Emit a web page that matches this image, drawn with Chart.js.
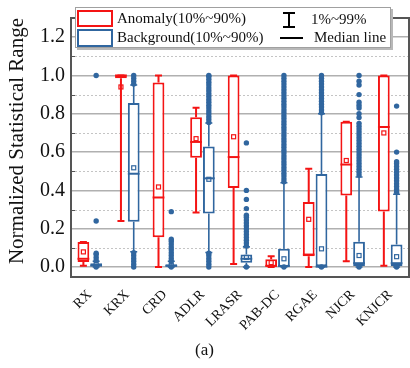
<!DOCTYPE html>
<html>
<head>
<meta charset="utf-8">
<script src="https://cdn.jsdelivr.net/npm/chart.js@4.4.0/dist/chart.umd.min.js"></script>
<style>
  html, body { margin: 0; padding: 0; background: #fff; }
</style>
</head>
<body>
<canvas id="chart" width="410" height="368"></canvas>
<script>
// categories
var labels = ['RX', 'KRX', 'CRD', 'ADLR', 'LRASR', 'PAB-DC', 'RGAE', 'NJCR', 'KNJCR'];

// Anomaly (red): 1%, 10%, median, 90%, 99%, mean
var anomalyLow    = [0.006, 0.24,  0.0,   0.284, 0.016, 0.0,   0.0,   0.03,  0.006];
var anomalyQ1     = [0.026, 0.985, 0.155, 0.57,  0.412, 0.002, 0.056, 0.373, 0.29];
var anomalyMedian = [0.043, 1.0,   0.363, 0.653, 0.574, 0.006, 0.065, 0.535, 0.731];
var anomalyQ3     = [0.13,  1.0,   0.963, 0.782, 1.0,   0.04,  0.34,  0.759, 1.0];
var anomalyHigh   = [0.13,  1.0,   1.0,   0.832, 1.0,   0.056, 0.513, 0.759, 1.0];
var anomalyMean   = [0.079, 0.94,  0.418, 0.67,  0.68,  0.023, 0.249, 0.556, 0.70];

// Background (blue): 1%, 10%, median, 90%, 99%, mean
var backgroundLow    = [0.0,   0.08,  0.0,   0.076, 0.0,   0.0,   0.0,   0.0,   0.0];
var backgroundQ1     = [0.003, 0.236, 0.003, 0.279, 0.022, 0.002, 0.0,   0.005, 0.005];
var backgroundMedian = [0.008, 0.487, 0.006, 0.463, 0.043, 0.005, 0.002, 0.02,  0.02];
var backgroundQ3     = [0.02,  0.856, 0.015, 0.629, 0.065, 0.096, 0.485, 0.132, 0.117];
var backgroundHigh   = [0.03,  0.95,  0.03,  0.752, 0.105, 0.44,  0.80,  0.47,  0.38];
var backgroundMean   = [0.014, 0.518, 0.01,  0.458, 0.05,  0.043, 0.095, 0.06,  0.054];

// Background outliers, one list per category
var backgroundOutliers = [
  [0.0, 0.035, 0.05, 0.065, 0.072, 0.24, 1.0],
  [0.0, 0.015, 0.03, 0.045, 0.06, 0.075, 0.955, 0.97, 0.985, 1.0],
  [0.0, 0.03, 0.045, 0.06, 0.075, 0.09, 0.105, 0.12, 0.135, 0.145, 0.289],
  [0.0, 0.015, 0.03, 0.045, 0.06, 0.072, 0.755, 0.77, 0.785, 0.80, 0.815, 0.83, 0.845, 0.86,
   0.875, 0.89, 0.905, 0.92, 0.935, 0.95, 0.965, 0.98, 0.995, 1.0],
  [0.0, 0.11, 0.125, 0.14, 0.155, 0.17, 0.185, 0.2, 0.215, 0.23, 0.245, 0.26, 0.27,
   0.305, 0.353, 0.40, 0.648],
  [0.0, 0.445, 0.46, 0.475, 0.49, 0.505, 0.52, 0.535, 0.55, 0.565, 0.58, 0.595, 0.61, 0.625,
   0.64, 0.655, 0.67, 0.685, 0.70, 0.715, 0.73, 0.745, 0.76, 0.775, 0.79, 0.805, 0.82, 0.835,
   0.85, 0.865, 0.88, 0.895, 0.91, 0.925, 0.94, 0.955, 0.97, 0.985, 1.0],
  [0.0, 0.805, 0.82, 0.835, 0.85, 0.865, 0.88, 0.895, 0.91, 0.925, 0.94, 0.955, 0.97, 0.985, 1.0],
  [0.0, 0.48, 0.495, 0.51, 0.525, 0.54, 0.555, 0.57, 0.585, 0.60, 0.615, 0.63, 0.645, 0.66,
   0.675, 0.69, 0.705, 0.72, 0.735, 0.75, 0.78, 0.80, 0.83, 0.845, 0.86, 0.90, 0.95, 0.97, 1.0],
  [0.0, 0.39, 0.405, 0.42, 0.435, 0.45, 0.465, 0.48, 0.495, 0.51, 0.525, 0.54, 0.55, 0.60, 0.84]
];

var legendLabels = ['Anomaly(10%~90%)', 'Background(10%~90%)', '1%~99%', 'Median line'];
var yTitle = 'Normalized Statistical Range';
var caption = '(a)';

var RED = '#f41414';
var BLUE = '#30669f';
var SERIF = '"Liberation Serif", "DejaVu Serif", serif';

function boxes(q1, q3) {
    return q1.map(function (v, i) { return [v, q3[i]]; });
}

var stats = [
    { low: anomalyLow, median: anomalyMedian, high: anomalyHigh, mean: anomalyMean, color: RED, width: 2, outliers: null },
    { low: backgroundLow, median: backgroundMedian, high: backgroundHigh, mean: backgroundMean, color: BLUE, width: 1.6, outliers: backgroundOutliers }
];
var q1s = [anomalyQ1, backgroundQ1];
var q3s = [anomalyQ3, backgroundQ3];

function isMinor(v) {
    return Math.abs(Math.round(v * 10)) % 2 !== 0;
}

var boxPlugin = {
    id: 'boxparts',
    beforeDatasetsDraw: function (chart) {
        var ctx = chart.ctx, y = chart.scales.y, area = chart.chartArea;
        ctx.save();
        // minor dotted grid + inner ticks
        y.ticks.forEach(function (t) {
            if (!isMinor(t.value)) return;
            var py = Math.round(y.getPixelForValue(t.value)) + 0.5;
            ctx.strokeStyle = '#c4c4c4';
            ctx.lineWidth = 1;
            ctx.setLineDash([2, 2]);
            ctx.beginPath(); ctx.moveTo(area.left, py); ctx.lineTo(area.right, py); ctx.stroke();
            ctx.setLineDash([]);
            ctx.strokeStyle = '#555';
            ctx.beginPath(); ctx.moveTo(area.left, py); ctx.lineTo(area.left + 4, py); ctx.stroke();
        });
        // whiskers
        stats.forEach(function (s, d) {
            var meta = chart.getDatasetMeta(d);
            ctx.strokeStyle = s.color;
            ctx.lineWidth = s.width;
            meta.data.forEach(function (el, i) {
                var x = el.x;
                var yl = y.getPixelForValue(s.low[i]);
                var yh = y.getPixelForValue(s.high[i]);
                var y1 = y.getPixelForValue(q1s[d][i]);
                var y3 = y.getPixelForValue(q3s[d][i]);
                ctx.beginPath();
                ctx.moveTo(x, yl); ctx.lineTo(x, y1);
                ctx.moveTo(x, y3); ctx.lineTo(x, yh);
                ctx.moveTo(x - 3.5, yl); ctx.lineTo(x + 3.5, yl);
                ctx.moveTo(x - 3.5, yh); ctx.lineTo(x + 3.5, yh);
                ctx.stroke();
            });
        });
        ctx.restore();
    },
    afterDatasetsDraw: function (chart) {
        var ctx = chart.ctx, y = chart.scales.y;
        ctx.save();
        stats.forEach(function (s, d) {
            var meta = chart.getDatasetMeta(d);
            meta.data.forEach(function (el, i) {
                var x = el.x, w = el.width;
                ctx.strokeStyle = s.color;
                ctx.lineWidth = 2;
                var ym = y.getPixelForValue(s.median[i]);
                ctx.beginPath(); ctx.moveTo(x - w / 2, ym); ctx.lineTo(x + w / 2, ym); ctx.stroke();
                var ya = y.getPixelForValue(s.mean[i]);
                ctx.lineWidth = 1.2;
                ctx.strokeRect(x - 2, ya - 2, 4, 4);
                if (s.outliers) {
                    ctx.fillStyle = s.color;
                    s.outliers[i].forEach(function (v) {
                        ctx.beginPath();
                        ctx.arc(x, y.getPixelForValue(v), 2.7, 0, Math.PI * 2);
                        ctx.fill();
                    });
                }
            });
        });
        ctx.restore();
    },
    afterDraw: function (chart) {
        var ctx = chart.ctx, area = chart.chartArea;
        ctx.save();
        // top and right frame
        ctx.strokeStyle = '#555';
        ctx.lineWidth = 2;
        ctx.beginPath();
        ctx.moveTo(area.left, area.top); ctx.lineTo(area.right, area.top); ctx.lineTo(area.right, area.bottom);
        ctx.stroke();
        // legend
        var lx = 75, ly = 7, lw = 316, lh = 41;
        ctx.fillStyle = '#b8b8b8';
        ctx.fillRect(lx + 2, ly + 2, lw, lh);
        ctx.fillStyle = '#fff';
        ctx.fillRect(lx, ly, lw, lh);
        ctx.strokeStyle = '#a0a0a0';
        ctx.lineWidth = 1;
        ctx.strokeRect(lx + 0.5, ly + 0.5, lw - 1, lh - 1);

        ctx.lineWidth = 2;
        ctx.strokeStyle = RED;
        ctx.strokeRect(78, 11, 34, 15);
        ctx.strokeStyle = BLUE;
        ctx.strokeRect(78, 30, 34, 16);

        ctx.strokeStyle = '#000';
        ctx.beginPath();
        ctx.moveTo(289, 13); ctx.lineTo(289, 27);
        ctx.moveTo(283, 13); ctx.lineTo(295, 13);
        ctx.moveTo(283, 27); ctx.lineTo(295, 27);
        ctx.moveTo(280, 38); ctx.lineTo(303, 38);
        ctx.stroke();

        ctx.fillStyle = '#111';
        ctx.font = '15px ' + SERIF;
        ctx.textBaseline = 'middle';
        ctx.fillText(legendLabels[0], 117, 19);
        ctx.fillText(legendLabels[1], 117, 38);
        ctx.fillText(legendLabels[2], 311, 20);
        ctx.fillText(legendLabels[3], 314, 38);
        ctx.restore();
    }
};

var ctx = document.getElementById('chart').getContext('2d');
var chart = new Chart(ctx, {
    type: 'bar',
    data: {
        labels: labels,
        datasets: [
            {
                label: legendLabels[0],
                data: boxes(anomalyQ1, anomalyQ3),
                backgroundColor: '#fff',
                borderColor: RED,
                borderWidth: 2,
                borderSkipped: false,
                categoryPercentage: 0.68,
                barPercentage: 0.92
            },
            {
                label: legendLabels[1],
                data: boxes(backgroundQ1, backgroundQ3),
                backgroundColor: '#fff',
                borderColor: BLUE,
                borderWidth: 2,
                borderSkipped: false,
                categoryPercentage: 0.68,
                barPercentage: 0.92
            }
        ]
    },
    options: {
        responsive: false,
        devicePixelRatio: 1,
        animation: false,
        layout: { padding: { top: 3, right: 1, left: 0, bottom: 0 } },
        plugins: {
            legend: { display: false },
            tooltip: { enabled: false },
            title: {
                display: true,
                text: caption,
                position: 'bottom',
                color: '#111',
                font: { family: SERIF, size: 17, weight: 'normal' },
                padding: { top: 0, bottom: 7 }
            }
        },
        scales: {
            x: {
                grid: { display: false },
                border: { color: '#555', width: 2 },
                ticks: {
                    color: '#111',
                    font: { family: SERIF, size: 14 },
                    minRotation: 45,
                    maxRotation: 45,
                    padding: 2
                },
                afterFit: function (scale) { scale.height = 64; }
            },
            y: {
                min: -0.05,
                max: 1.3,
                afterBuildTicks: function (scale) {
                    scale.ticks = scale.ticks.filter(function (t) {
                        return Math.abs(t.value * 10 - Math.round(t.value * 10)) < 1e-6 && t.value < 1.25;
                    });
                },
                ticks: {
                    stepSize: 0.1,
                    includeBounds: false,
                    autoSkip: false,
                    color: '#111',
                    font: { family: SERIF, size: 20 },
                    padding: 6,
                    callback: function (v) { return isMinor(v) ? '' : v.toFixed(1); }
                },
                grid: {
                    drawTicks: false,
                    lineWidth: 1.4,
                    color: function (c) { return c.tick && isMinor(c.tick.value) ? 'rgba(0,0,0,0)' : '#b0b0b0'; }
                },
                border: { color: '#555', width: 2 },
                title: {
                    display: true,
                    text: yTitle,
                    align: 'end',
                    color: '#111',
                    font: { family: SERIF, size: 21, weight: 'normal' },
                    padding: { top: 5, bottom: 0 }
                },
                afterFit: function (scale) { scale.width = 71; }
            }
        }
    },
    plugins: [boxPlugin]
});
</script>
</body>
</html>
